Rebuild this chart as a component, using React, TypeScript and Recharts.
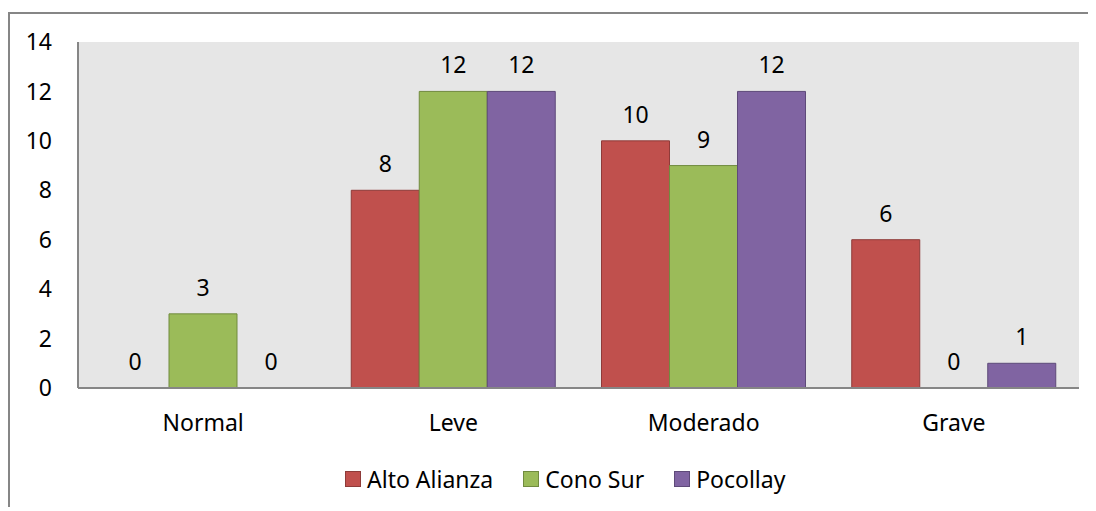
import { BarChart, Bar, Line, XAxis, YAxis, CartesianGrid, LabelList } from "recharts";

const categories = ["Normal", "Leve", "Moderado", "Grave"];
const altoAlianza = [0, 8, 10, 6];
const conoSur = [3, 12, 9, 0];
const pocollay = [0, 12, 12, 1];
const yTicks = [0, 2, 4, 6, 8, 10, 12, 14];

const series = [
  { key: "altoAlianza", name: "Alto Alianza", fill: "#C0504D", stroke: "#8E3B39" },
  { key: "conoSur", name: "Cono Sur", fill: "#9BBB59", stroke: "#718B3F" },
  { key: "pocollay", name: "Pocollay", fill: "#8064A2", stroke: "#5E4A79" },
];

const data = categories.map((c, i) => ({
  name: c,
  altoAlianza: altoAlianza[i],
  conoSur: conoSur[i],
  pocollay: pocollay[i],
}));

const font = "'Noto Sans', sans-serif";
const axisColor = "#868686";
const BAR_W = 68;

// labels are hung on invisible lines so that zero values get one too
function makeLabel(seriesIndex: number) {
  return (props: any) => {
    const { x, y, value } = props;
    if (x == null || y == null) return null;
    return (
      <text
        x={Number(x) + (seriesIndex - 1) * BAR_W}
        y={Number(y) - 18}
        textAnchor="middle"
        fill="#000"
        fontSize={23}
        fontFamily={font}
      >
        {value}
      </text>
    );
  };
}

function LegendBox() {
  return (
    <div
      style={{
        position: "absolute",
        left: 335,
        top: 452,
        display: "flex",
        alignItems: "center",
        fontFamily: font,
        fontSize: 23,
        color: "#000",
        lineHeight: "26px",
      }}
    >
      {series.map((s, i) => (
        <div key={s.key} style={{ display: "flex", alignItems: "center", marginLeft: i === 0 ? 0 : 30 }}>
          <span
            style={{
              display: "inline-block",
              width: 14,
              height: 14,
              background: s.fill,
              border: `1px solid ${s.stroke}`,
              marginRight: 6,
            }}
          />
          <span>{s.name}</span>
        </div>
      ))}
    </div>
  );
}

export default function App() {
  return (
    <div
      style={{
        position: "relative",
        marginTop: 4,
        width: 1086,
        height: 493,
        borderLeft: `2px solid ${axisColor}`,
        borderTop: `2px solid ${axisColor}`,
        background: "#fff",
      }}
    >
      <BarChart
        width={1080}
        height={493}
        data={data}
        margin={{ top: 28, right: 11, bottom: 0, left: 0 }}
        barCategoryGap={23}
        barGap={0}
      >
        <CartesianGrid fill="#E6E6E6" horizontal={false} vertical={false} />
        <XAxis
          dataKey="name"
          height={119}
          axisLine={{ stroke: axisColor, strokeWidth: 2 }}
          tickLine={false}
          tickMargin={21}
          tick={{ fill: "#000", fontSize: 23, fontFamily: font }}
        />
        <YAxis
          width={68}
          domain={[0, 14]}
          ticks={yTicks}
          interval={0}
          axisLine={{ stroke: axisColor, strokeWidth: 2 }}
          tickLine={false}
          tickMargin={20}
          tick={{ fill: "#000", fontSize: 23, fontFamily: font }}
        />
        {series.map((s) => (
          <Bar
            key={s.key}
            dataKey={s.key}
            name={s.name}
            fill={s.fill}
            stroke={s.stroke}
            strokeWidth={1}
            isAnimationActive={false}
          />
        ))}
        {series.map((s, i) => (
          <Line
            key={`${s.key}-lbl`}
            dataKey={s.key}
            stroke="none"
            dot={false}
            activeDot={false}
            legendType="none"
            isAnimationActive={false}
          >
            <LabelList dataKey={s.key} content={makeLabel(i)} />
          </Line>
        ))}
      </BarChart>
      <LegendBox />
    </div>
  );
}
